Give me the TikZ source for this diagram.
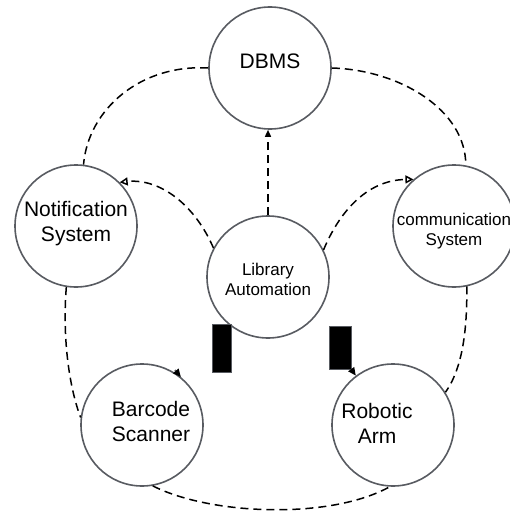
\documentclass[tikz,border=0pt]{standalone}
\usepackage{fontspec}
\setmainfont{Liberation Sans}
\usetikzlibrary{arrows.meta}
\definecolor{circgray}{RGB}{88,91,97}

\begin{document}
\begin{tikzpicture}[
    x=1pt, y=-1pt,
    proc/.style={circle, draw=circgray, line width=1.6pt, minimum size=122pt, inner sep=0pt},
    bigtext/.style={font=\fontsize{21}{25}\selectfont, align=center},
    smalltext/.style={font=\fontsize{17}{20}\selectfont, align=center},
    block/.style={rectangle, fill=black, draw=circgray, line width=0.5pt, inner sep=0pt},
    flow/.style={line width=1.5pt, dash pattern=on 8pt off 5pt},
    dep/.style={flow, -{Triangle[length=7pt, width=6pt]}},
    incl/.style={flow, -{Triangle[open, length=8pt, width=8pt]}},
    ctrl/.style={circgray, line width=1.6pt, -{Triangle[length=8pt, width=7pt, black]}}
]
\useasboundingbox (0,0) rectangle (509,516);

% Processes
\node[proc, label={[bigtext, yshift=7pt]center:DBMS}] (db) at (270,68) {};
\node[proc, label={[bigtext, yshift=2pt]center:Notification\\System}] (notif) at (76,226) {};
\node[proc, label={[smalltext, yshift=-5pt]center:communication\\System}] (comm) at (454,226) {};
\node[proc, label={[smalltext, yshift=-2pt]center:Library\\Automation}] (lib) at (268,277) {};
\node[proc, label={[bigtext, xshift=9pt, yshift=3.5pt]center:Barcode\\Scanner}] (scan) at (142,425) {};
\node[proc, label={[bigtext, xshift=-16pt, yshift=1.5pt]center:Robotic\\Arm}] (robot) at (393,425) {};

% Control blocks
\node[block, minimum width=19pt, minimum height=48pt] (barl) at (221.5,348) {};
\node[block, minimum width=22pt, minimum height=43pt] (barr) at (340,347.5) {};
\coordinate (scanin) at (175,370);

% Outer ring
\draw[flow] (db.west) .. controls (140,64) and (88,110) .. (notif.83);
\draw[flow] (db.east) .. controls (400,70) and (466,110) .. (comm.79);
\draw[flow] (notif.261) .. controls (62,340) and (70,390) .. (scan.173);
\draw[flow] (comm.282) .. controls (467,320) and (465,365) .. (robot.32);
\draw[flow] (scan.280) .. controls (210,515) and (330,520) .. (robot.267);

% From Library Automation
\draw[dep] (lib.north) -- (lib.north |- db.south);
\draw[incl] (lib.152) .. controls (195,205) and (160,178) .. (notif.45);
\draw[incl] (lib.26) .. controls (338,215) and (365,180) .. (comm.131);

% Control arrows
\draw[ctrl] (scanin) -- (scan.51);
\draw[ctrl] (barr.south east) -- (robot.127);
\end{tikzpicture}
\end{document}
